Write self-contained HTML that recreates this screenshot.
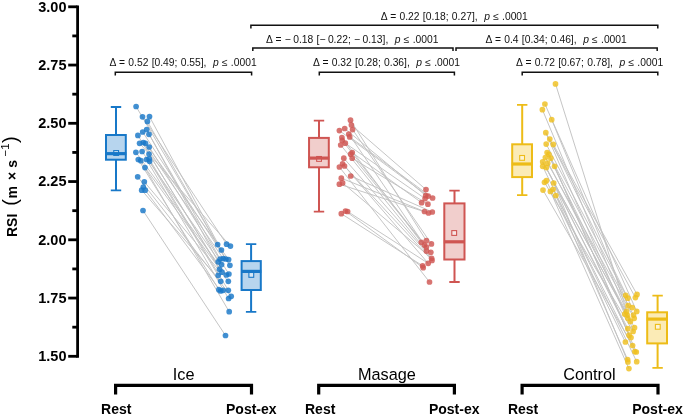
<!DOCTYPE html>
<html><head><meta charset="utf-8"><title>RSI chart</title>
<style>
html,body{margin:0;padding:0;background:#fff;overflow:hidden;}
body{width:685px;height:415px;position:relative;overflow:hidden;font-family:"Liberation Sans",sans-serif;color:#000;}
.t{position:absolute;white-space:nowrap;line-height:1;}
.yt{position:absolute;width:66.5px;left:0;text-align:right;font-weight:bold;font-size:14.5px;line-height:14px;height:14px;}
.ann{position:absolute;white-space:pre;font-size:10.3px;word-spacing:0.4px;line-height:10px;color:#111;}
.grp{position:absolute;font-size:16.3px;line-height:16px;text-align:center;width:120px;color:#000;}
.xl{position:absolute;font-size:14px;line-height:14px;font-weight:bold;text-align:center;width:80px;}
.ylab{position:absolute;left:19.9px;top:236.8px;width:0;height:0;}
.ylab .r{position:absolute;left:0;bottom:0;white-space:nowrap;font-weight:bold;font-size:14px;line-height:14px;transform-origin:0 100%;transform:rotate(-90deg);display:block;}
.ylab .pa{font-weight:normal;font-size:20px;position:relative;top:-0.4px;}
.ylab .su{font-weight:normal;font-size:11.5px;position:relative;top:-7.8px;}
i{font-style:italic;}
.ann b{font-weight:normal;margin-left:-0.8px;}
</style></head><body>
<svg width="685" height="415" viewBox="0 0 685 415" style="position:absolute;left:0;top:0">
<g stroke="#000" stroke-width="2.8" fill="none" stroke-linecap="butt">
<path d="M77.6 5.4V357.7"/>
<path d="M68.2 6.80H77.4"/>
<path d="M68.2 65.05H77.4"/>
<path d="M68.2 123.30H77.4"/>
<path d="M68.2 181.55H77.4"/>
<path d="M68.2 239.80H77.4"/>
<path d="M68.2 298.05H77.4"/>
<path d="M68.2 356.30H77.4"/>
<path d="M72.3 35.92H77.4"/>
<path d="M72.3 94.17H77.4"/>
<path d="M72.3 152.43H77.4"/>
<path d="M72.3 210.68H77.4"/>
<path d="M72.3 268.93H77.4"/>
<path d="M72.3 327.18H77.4"/>
</g>
<g stroke="#c2c2c2" stroke-width="0.95" fill="none">
<path d="M136.1 106.5L217.6 244.6"/>
<path d="M149.5 116.6L221.4 250.0"/>
<path d="M142.5 116.8L226.6 244.2"/>
<path d="M147.4 121.4L225.8 259.0"/>
<path d="M146.7 129.5L218.2 261.8"/>
<path d="M142.7 132.0L229.9 265.3"/>
<path d="M149.0 134.3L220.1 259.0"/>
<path d="M137.9 135.4L219.5 269.3"/>
<path d="M143.3 142.5L223.2 258.6"/>
<path d="M139.6 143.3L230.4 246.1"/>
<path d="M145.5 143.3L228.6 259.6"/>
<path d="M149.2 147.0L228.9 274.0"/>
<path d="M142.1 151.5L221.6 264.6"/>
<path d="M135.9 152.3L226.4 275.0"/>
<path d="M149.0 154.0L222.0 272.2"/>
<path d="M149.2 158.8L228.3 290.3"/>
<path d="M138.3 159.5L218.9 289.7"/>
<path d="M146.5 159.5L228.6 298.5"/>
<path d="M140.8 160.7L229.2 311.7"/>
<path d="M149.6 161.3L218.2 275.3"/>
<path d="M145.0 167.6L222.0 272.2"/>
<path d="M137.7 176.8L231.2 296.3"/>
<path d="M144.3 181.8L228.3 281.3"/>
<path d="M141.7 190.2L220.7 281.3"/>
<path d="M145.2 190.2L220.7 291.0"/>
<path d="M143.0 210.5L225.5 335.5"/>
</g>
<g stroke="#c2c2c2" stroke-width="0.95" fill="none">
<path d="M350.5 120.2L426.4 240.7"/>
<path d="M351.4 125.0L426.0 189.6"/>
<path d="M344.7 128.5L425.7 195.5"/>
<path d="M352.6 129.6L431.4 243.9"/>
<path d="M339.4 130.6L428.2 196.1"/>
<path d="M348.8 134.0L424.5 245.1"/>
<path d="M349.7 136.9L432.6 198.0"/>
<path d="M341.9 137.5L421.3 242.3"/>
<path d="M342.2 140.4L426.4 247.0"/>
<path d="M345.3 143.2L425.1 198.6"/>
<path d="M340.7 145.0L426.4 251.1"/>
<path d="M352.2 152.6L421.6 202.7"/>
<path d="M350.7 154.2L430.8 252.3"/>
<path d="M352.2 158.2L427.9 204.2"/>
<path d="M343.8 158.2L431.6 258.3"/>
<path d="M342.6 163.8L428.2 263.3"/>
<path d="M344.5 166.0L432.0 260.4"/>
<path d="M339.4 167.0L429.5 282.0"/>
<path d="M350.7 176.0L432.3 212.0"/>
<path d="M341.3 178.2L424.5 211.5"/>
<path d="M342.6 182.9L431.6 258.3"/>
<path d="M339.4 184.2L428.5 213.0"/>
<path d="M345.5 211.1L423.2 267.7"/>
<path d="M347.6 211.5L428.2 263.3"/>
<path d="M341.3 213.7L422.6 265.8"/>
</g>
<g stroke="#c2c2c2" stroke-width="0.95" fill="none">
<path d="M544.9 104.0L636.7 311.4"/>
<path d="M542.4 109.7L626.6 311.4"/>
<path d="M551.7 119.7L628.1 305.7"/>
<path d="M545.8 132.7L624.7 314.1"/>
<path d="M545.8 132.7L635.4 297.6"/>
<path d="M549.8 139.1L627.9 298.2"/>
<path d="M546.2 144.1L632.3 307.6"/>
<path d="M553.3 144.4L637.0 294.4"/>
<path d="M547.1 152.5L627.9 318.3"/>
<path d="M548.9 154.4L633.5 315.1"/>
<path d="M545.4 157.5L634.5 327.7"/>
<path d="M550.8 158.2L629.1 335.2"/>
<path d="M542.7 161.9L630.4 321.4"/>
<path d="M542.7 161.9L627.2 315.1"/>
<path d="M547.7 163.2L634.2 318.3"/>
<path d="M542.7 166.3L636.7 361.7"/>
<path d="M554.6 166.3L636.3 352.0"/>
<path d="M546.4 167.6L631.0 337.6"/>
<path d="M546.4 180.7L625.4 342.0"/>
<path d="M544.5 182.3L633.1 331.5"/>
<path d="M553.7 183.0L627.9 328.7"/>
<path d="M553.7 183.0L627.9 362.0"/>
<path d="M553.1 189.3L634.8 351.6"/>
<path d="M543.0 190.1L632.6 345.5"/>
<path d="M550.4 191.4L628.9 368.6"/>
<path d="M555.8 195.5L627.6 359.5"/>
<path d="M555.5 83.9L633.1 331.5"/>
</g>
<g fill="#1878c8" fill-opacity="0.82">
<circle cx="136.1" cy="106.5" r="2.85"/>
<circle cx="142.5" cy="116.8" r="2.85"/>
<circle cx="149.5" cy="116.6" r="2.85"/>
<circle cx="147.4" cy="121.4" r="2.85"/>
<circle cx="146.7" cy="129.5" r="2.85"/>
<circle cx="142.7" cy="132.0" r="2.85"/>
<circle cx="149.0" cy="134.3" r="2.85"/>
<circle cx="137.9" cy="135.4" r="2.85"/>
<circle cx="139.6" cy="143.3" r="2.85"/>
<circle cx="143.3" cy="142.5" r="2.85"/>
<circle cx="145.5" cy="143.3" r="2.85"/>
<circle cx="149.2" cy="147.0" r="2.85"/>
<circle cx="142.1" cy="151.5" r="2.85"/>
<circle cx="135.9" cy="152.3" r="2.85"/>
<circle cx="149.0" cy="154.0" r="2.85"/>
<circle cx="138.3" cy="159.5" r="2.85"/>
<circle cx="140.8" cy="160.7" r="2.85"/>
<circle cx="146.5" cy="159.5" r="2.85"/>
<circle cx="149.2" cy="158.8" r="2.85"/>
<circle cx="149.6" cy="161.3" r="2.85"/>
<circle cx="145.0" cy="167.6" r="2.85"/>
<circle cx="137.7" cy="176.8" r="2.85"/>
<circle cx="144.3" cy="181.8" r="2.85"/>
<circle cx="143.3" cy="187.0" r="2.85"/>
<circle cx="141.7" cy="190.2" r="2.85"/>
<circle cx="145.2" cy="190.2" r="2.85"/>
<circle cx="143.0" cy="210.5" r="2.85"/>
<circle cx="217.6" cy="244.6" r="2.85"/>
<circle cx="226.6" cy="244.2" r="2.85"/>
<circle cx="230.4" cy="246.1" r="2.85"/>
<circle cx="221.4" cy="250.0" r="2.85"/>
<circle cx="220.1" cy="259.0" r="2.85"/>
<circle cx="223.2" cy="258.6" r="2.85"/>
<circle cx="225.8" cy="259.0" r="2.85"/>
<circle cx="228.6" cy="259.6" r="2.85"/>
<circle cx="218.2" cy="261.8" r="2.85"/>
<circle cx="221.6" cy="264.6" r="2.85"/>
<circle cx="229.9" cy="265.3" r="2.85"/>
<circle cx="219.5" cy="269.3" r="2.85"/>
<circle cx="222.0" cy="272.2" r="2.85"/>
<circle cx="218.2" cy="275.3" r="2.85"/>
<circle cx="226.4" cy="275.0" r="2.85"/>
<circle cx="228.9" cy="274.0" r="2.85"/>
<circle cx="220.7" cy="281.3" r="2.85"/>
<circle cx="228.3" cy="281.3" r="2.85"/>
<circle cx="218.9" cy="289.7" r="2.85"/>
<circle cx="220.7" cy="291.0" r="2.85"/>
<circle cx="223.2" cy="290.3" r="2.85"/>
<circle cx="228.3" cy="290.3" r="2.85"/>
<circle cx="231.2" cy="296.3" r="2.85"/>
<circle cx="228.6" cy="298.5" r="2.85"/>
<circle cx="229.2" cy="311.7" r="2.85"/>
<circle cx="225.5" cy="335.5" r="2.85"/>
</g>
<g fill="#cf5552" fill-opacity="0.82">
<circle cx="350.5" cy="120.2" r="2.85"/>
<circle cx="351.4" cy="125.0" r="2.85"/>
<circle cx="352.6" cy="129.6" r="2.85"/>
<circle cx="344.7" cy="128.5" r="2.85"/>
<circle cx="339.4" cy="130.6" r="2.85"/>
<circle cx="348.8" cy="134.0" r="2.85"/>
<circle cx="349.7" cy="136.9" r="2.85"/>
<circle cx="341.9" cy="137.5" r="2.85"/>
<circle cx="342.2" cy="140.4" r="2.85"/>
<circle cx="345.3" cy="143.2" r="2.85"/>
<circle cx="340.7" cy="145.0" r="2.85"/>
<circle cx="352.2" cy="152.6" r="2.85"/>
<circle cx="350.7" cy="154.2" r="2.85"/>
<circle cx="352.2" cy="158.2" r="2.85"/>
<circle cx="343.8" cy="158.2" r="2.85"/>
<circle cx="342.6" cy="163.8" r="2.85"/>
<circle cx="344.5" cy="166.0" r="2.85"/>
<circle cx="339.4" cy="167.0" r="2.85"/>
<circle cx="350.7" cy="176.0" r="2.85"/>
<circle cx="341.3" cy="178.2" r="2.85"/>
<circle cx="342.6" cy="182.9" r="2.85"/>
<circle cx="339.4" cy="184.2" r="2.85"/>
<circle cx="341.3" cy="213.7" r="2.85"/>
<circle cx="345.5" cy="211.1" r="2.85"/>
<circle cx="347.6" cy="211.5" r="2.85"/>
<circle cx="426.0" cy="189.6" r="2.85"/>
<circle cx="425.7" cy="195.5" r="2.85"/>
<circle cx="428.2" cy="196.1" r="2.85"/>
<circle cx="432.6" cy="198.0" r="2.85"/>
<circle cx="425.1" cy="198.6" r="2.85"/>
<circle cx="421.6" cy="202.7" r="2.85"/>
<circle cx="427.9" cy="204.2" r="2.85"/>
<circle cx="424.5" cy="211.5" r="2.85"/>
<circle cx="428.5" cy="213.0" r="2.85"/>
<circle cx="432.3" cy="212.0" r="2.85"/>
<circle cx="426.4" cy="240.7" r="2.85"/>
<circle cx="421.3" cy="242.3" r="2.85"/>
<circle cx="431.4" cy="243.9" r="2.85"/>
<circle cx="424.5" cy="245.1" r="2.85"/>
<circle cx="426.4" cy="247.0" r="2.85"/>
<circle cx="426.4" cy="251.1" r="2.85"/>
<circle cx="430.8" cy="252.3" r="2.85"/>
<circle cx="431.6" cy="258.3" r="2.85"/>
<circle cx="432.0" cy="260.4" r="2.85"/>
<circle cx="428.2" cy="263.3" r="2.85"/>
<circle cx="422.6" cy="265.8" r="2.85"/>
<circle cx="423.2" cy="267.7" r="2.85"/>
<circle cx="429.5" cy="282.0" r="2.85"/>
</g>
<g fill="#efc01f" fill-opacity="0.82">
<circle cx="555.5" cy="83.9" r="2.85"/>
<circle cx="544.9" cy="104.0" r="2.85"/>
<circle cx="542.4" cy="109.7" r="2.85"/>
<circle cx="551.7" cy="119.7" r="2.85"/>
<circle cx="545.8" cy="132.7" r="2.85"/>
<circle cx="549.8" cy="139.1" r="2.85"/>
<circle cx="546.2" cy="144.1" r="2.85"/>
<circle cx="553.3" cy="144.4" r="2.85"/>
<circle cx="547.1" cy="152.5" r="2.85"/>
<circle cx="548.9" cy="154.4" r="2.85"/>
<circle cx="545.4" cy="157.5" r="2.85"/>
<circle cx="550.8" cy="158.2" r="2.85"/>
<circle cx="542.7" cy="161.9" r="2.85"/>
<circle cx="547.7" cy="163.2" r="2.85"/>
<circle cx="542.7" cy="166.3" r="2.85"/>
<circle cx="554.6" cy="166.3" r="2.85"/>
<circle cx="546.4" cy="167.6" r="2.85"/>
<circle cx="546.4" cy="180.7" r="2.85"/>
<circle cx="544.5" cy="182.3" r="2.85"/>
<circle cx="553.7" cy="183.0" r="2.85"/>
<circle cx="543.0" cy="190.1" r="2.85"/>
<circle cx="553.1" cy="189.3" r="2.85"/>
<circle cx="550.4" cy="191.4" r="2.85"/>
<circle cx="555.8" cy="195.5" r="2.85"/>
<circle cx="625.7" cy="295.3" r="2.85"/>
<circle cx="627.9" cy="298.2" r="2.85"/>
<circle cx="637.0" cy="294.4" r="2.85"/>
<circle cx="635.4" cy="297.6" r="2.85"/>
<circle cx="628.1" cy="305.7" r="2.85"/>
<circle cx="632.3" cy="307.6" r="2.85"/>
<circle cx="636.7" cy="311.4" r="2.85"/>
<circle cx="626.6" cy="311.4" r="2.85"/>
<circle cx="624.7" cy="314.1" r="2.85"/>
<circle cx="627.2" cy="315.1" r="2.85"/>
<circle cx="633.5" cy="315.1" r="2.85"/>
<circle cx="627.9" cy="318.3" r="2.85"/>
<circle cx="634.2" cy="318.3" r="2.85"/>
<circle cx="630.4" cy="321.4" r="2.85"/>
<circle cx="627.9" cy="328.7" r="2.85"/>
<circle cx="634.5" cy="327.7" r="2.85"/>
<circle cx="633.1" cy="331.5" r="2.85"/>
<circle cx="629.1" cy="335.2" r="2.85"/>
<circle cx="631.0" cy="337.6" r="2.85"/>
<circle cx="625.4" cy="342.0" r="2.85"/>
<circle cx="632.6" cy="345.5" r="2.85"/>
<circle cx="634.8" cy="351.6" r="2.85"/>
<circle cx="636.3" cy="352.0" r="2.85"/>
<circle cx="627.6" cy="359.5" r="2.85"/>
<circle cx="627.9" cy="362.0" r="2.85"/>
<circle cx="636.7" cy="361.7" r="2.85"/>
<circle cx="628.9" cy="368.6" r="2.85"/>
</g>
<g stroke="#1878c8" fill="none">
<path stroke-width="2" d="M116.00 107.00V135.00M116.00 159.70V190.30"/>
<path stroke-width="1.8" d="M110.80 107.00H121.20M110.80 190.30H121.20"/>
<rect x="106.00" y="135.00" width="19.80" height="24.70" fill="#b7d5ee" stroke-width="2"/>
<rect x="113.75" y="150.60" width="4.8" height="4.8" fill="#fff" fill-opacity="0.45" stroke-width="1.1"/>
<path stroke-width="3.2" d="M105.50 153.65H126.30"/>
</g>
<g stroke="#1878c8" fill="none">
<path stroke-width="2" d="M251.10 244.20V261.10M251.10 290.00V311.90"/>
<path stroke-width="1.8" d="M245.90 244.20H256.30M245.90 311.90H256.30"/>
<rect x="241.60" y="261.10" width="19.20" height="28.90" fill="#b7d5ee" stroke-width="2"/>
<rect x="248.90" y="272.50" width="4.8" height="4.8" fill="#fff" fill-opacity="0.45" stroke-width="1.1"/>
<path stroke-width="3.2" d="M241.10 271.40H261.30"/>
</g>
<g stroke="#cf5552" fill="none">
<path stroke-width="2" d="M319.00 120.60V137.90M319.00 167.30V211.70"/>
<path stroke-width="1.8" d="M313.80 120.60H324.20M313.80 211.70H324.20"/>
<rect x="309.05" y="137.90" width="19.75" height="29.40" fill="#f1cecc" stroke-width="2"/>
<rect x="316.65" y="156.50" width="4.8" height="4.8" fill="#fff" fill-opacity="0.45" stroke-width="1.1"/>
<path stroke-width="3.2" d="M308.55 158.10H329.30"/>
</g>
<g stroke="#cf5552" fill="none">
<path stroke-width="2" d="M454.50 190.70V203.40M454.50 259.50V282.00"/>
<path stroke-width="1.8" d="M449.30 190.70H459.70M449.30 282.00H459.70"/>
<rect x="444.30" y="203.40" width="20.20" height="56.10" fill="#f1cecc" stroke-width="2"/>
<rect x="451.80" y="230.60" width="4.8" height="4.8" fill="#fff" fill-opacity="0.45" stroke-width="1.1"/>
<path stroke-width="3.2" d="M443.80 241.80H465.00"/>
</g>
<g stroke="#edbc17" fill="none">
<path stroke-width="2" d="M522.20 104.90V144.30M522.20 177.10V195.20"/>
<path stroke-width="1.8" d="M517.00 104.90H527.40M517.00 195.20H527.40"/>
<rect x="512.20" y="144.30" width="19.80" height="32.80" fill="#fbebb6" stroke-width="2"/>
<rect x="519.70" y="155.50" width="4.8" height="4.8" fill="#fff" fill-opacity="0.45" stroke-width="1.1"/>
<path stroke-width="3.2" d="M511.70 164.00H532.50"/>
</g>
<g stroke="#edbc17" fill="none">
<path stroke-width="2" d="M657.60 295.70V312.30M657.60 343.40V367.90"/>
<path stroke-width="1.8" d="M652.40 295.70H662.80M652.40 367.90H662.80"/>
<rect x="647.20" y="312.30" width="19.80" height="31.10" fill="#fbebb6" stroke-width="2"/>
<rect x="655.40" y="324.40" width="4.8" height="4.8" fill="#fff" fill-opacity="0.45" stroke-width="1.1"/>
<path stroke-width="3.2" d="M646.70 319.10H667.50"/>
</g>
<g stroke="#111" stroke-width="1.5" fill="none">
<path d="M115.3 75.5V72.3H251.6V75.5"/>
<path d="M319.3 75.5V72.3H454.4V75.5"/>
<path d="M522.2 75.5V72.3H657.8V75.5"/>
<path d="M252.8 51.1V47.9H453.0V51.1"/>
<path d="M456.0 51.1V47.9H657.2V51.1"/>
<path d="M250.9 28.4V25.2H657.8V28.4"/>
</g>
<g stroke="#000" stroke-width="3.2" fill="none">
<path d="M115.6 394.6V385.3H251.5V394.6"/>
<path d="M318.7 394.6V385.3H454.4V394.6"/>
<path d="M522.1 394.6V385.3H658.0V394.6"/>
</g>
</svg>
<div id="txt" style="position:absolute;left:0;top:0;width:685px;height:415px;overflow:hidden;will-change:transform;">
<div class="yt" style="top:-0.40px">3.00</div>
<div class="yt" style="top:57.85px">2.75</div>
<div class="yt" style="top:116.10px">2.50</div>
<div class="yt" style="top:174.35px">2.25</div>
<div class="yt" style="top:232.60px">2.00</div>
<div class="yt" style="top:290.85px">1.75</div>
<div class="yt" style="top:349.10px">1.50</div>
<div class="ylab"><span class="r">RSI<span class="pa" style="margin-left:8px">(</span><span style="margin-left:0.5px">m</span><span style="margin-left:6px">×</span><span style="margin-left:4px">s</span><span class="su" style="margin-left:3.5px">−</span><span class="su" style="margin-left:0px">1</span><span class="pa" style="margin-left:0.5px">)</span></span></div>
<div class="ann" style="left:109.5px;top:57.9px">Δ = 0.52 [0.49; 0.55],  <i>p</i> ≤ .0001</div>
<div class="ann" style="left:312.9px;top:57.9px">Δ = 0.32 [0.28; 0.36],  <i>p</i> ≤ .0001</div>
<div class="ann" style="left:516.0px;top:57.9px">Δ = 0.72 [0.67; 0.78],  <i>p</i> ≤ .0001</div>
<div class="ann" style="left:265.9px;top:34.9px">Δ = −<b> </b>0.18 [−<b> </b>0.22; −<b> </b>0.13],  <i>p</i> ≤ .0001</div>
<div class="ann" style="left:485.4px;top:34.9px">Δ = 0.4 [0.34; 0.46],  <i>p</i> ≤ .0001</div>
<div class="ann" style="left:380.7px;top:11.9px">Δ = 0.22 [0.18; 0.27],  <i>p</i> ≤ .0001</div>
<div class="grp" style="left:123.69999999999999px;top:365.5px">Ice</div>
<div class="grp" style="left:326.9px;top:365.5px">Masage</div>
<div class="grp" style="left:529.4px;top:365.5px">Control</div>
<div class="xl" style="left:76.3px;top:401.5px">Rest</div>
<div class="xl" style="left:211.3px;top:401.5px">Post-ex</div>
<div class="xl" style="left:280.2px;top:401.5px">Rest</div>
<div class="xl" style="left:414.2px;top:401.5px">Post-ex</div>
<div class="xl" style="left:483.1px;top:401.5px">Rest</div>
<div class="xl" style="left:617.5px;top:401.5px">Post-ex</div>
</div></body></html>
